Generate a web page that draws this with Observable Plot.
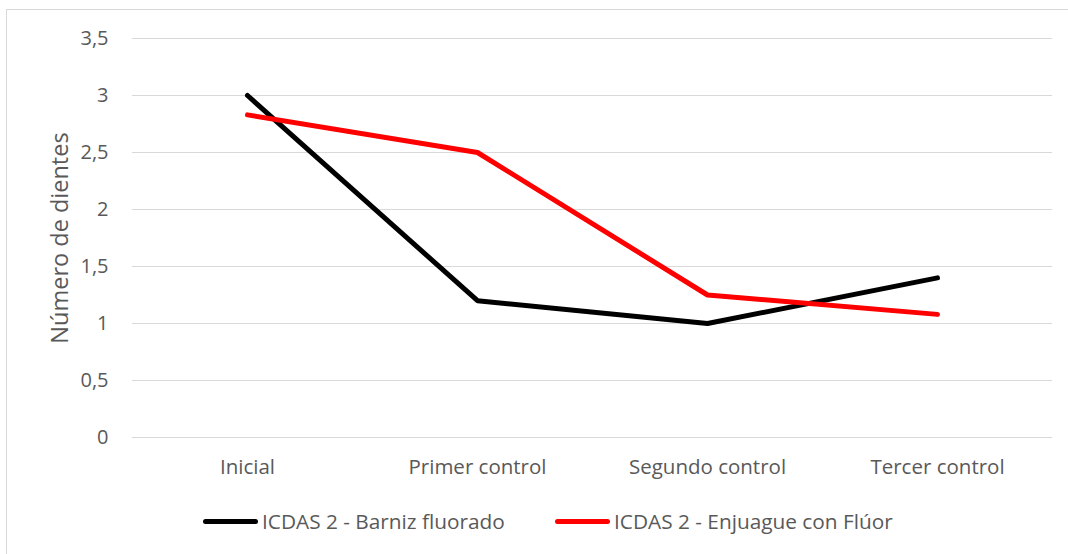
<!DOCTYPE html>
<html>
<head>
<meta charset="utf-8">
<script src="https://cdn.jsdelivr.net/npm/d3@7"></script>
<script src="https://cdn.jsdelivr.net/npm/@observablehq/plot@0.6"></script>
<style>
  html, body { margin: 0; padding: 0; background: #fff; }
  body { width: 1068px; height: 554px; position: relative; overflow: hidden; font-family: "Open Sans", Lato, sans-serif; }
  #frame { position: absolute; left: 6px; top: 9px; width: 1100px; height: 600px; border: 1px solid #d9d9d9; box-sizing: border-box; }
  #chart { position: absolute; left: 0; top: 0; }
  #legend { position: absolute; top: 508px; left: 0; width: 1068px; height: 26px; }
  .item { position: absolute; top: 0; display: flex; align-items: center; height: 26px; font-size: 20.8px; color: #595959; white-space: nowrap; }
  .sw { width: 55px; height: 5px; border-radius: 3px; margin-right: 4px; }
</style>
</head>
<body>
<div id="frame"></div>
<div id="chart"></div>
<div id="legend"></div>
<script>
const categories = ["Inicial", "Primer control", "Segundo control", "Tercer control"];
const seriesNames = ["ICDAS 2 - Barniz fluorado", "ICDAS 2 - Enjuague con Flúor"];
const barnizValues = [3.0, 1.2, 1.0, 1.4];
const enjuagueValues = [2.83, 2.5, 1.25, 1.08];
const seriesColors = ["#000000", "#ff0000"];
const yTicks = [0, 0.5, 1, 1.5, 2, 2.5, 3, 3.5];

const data = [];
categories.forEach((c, i) => {
  data.push({cat: c, value: barnizValues[i], series: seriesNames[0]});
  data.push({cat: c, value: enjuagueValues[i], series: seriesNames[1]});
});

const fmt = d => String(d).replace(".", ",");

const plot = Plot.plot({
  width: 1068,
  height: 490,
  marginLeft: 132,
  marginRight: 16,
  marginTop: 38,
  marginBottom: 53,
  style: {fontFamily: '"Open Sans", Lato, sans-serif', fontSize: "20px", color: "#595959", background: "transparent", overflow: "visible"},
  x: {type: "point", domain: categories, padding: 0.5, label: null},
  y: {domain: [0, 3.5], ticks: yTicks, label: null},
  color: {domain: seriesNames, range: seriesColors},
  marks: [
    Plot.gridY(yTicks, {stroke: "#d9d9d9", strokeOpacity: 1, strokeWidth: 1}),
    Plot.axisY(yTicks, {tickSize: 0, tickPadding: 24, tickFormat: fmt, fontSize: 20, fill: "#595959", label: null}),
    Plot.text(["Número de dientes"], {frameAnchor: "left", dx: -72, rotate: -90, fontSize: 23.5, fill: "#595959", textAnchor: "middle"}),
    Plot.axisX({tickSize: 0, tickPadding: 22, fontSize: 20.5, fill: "#595959", label: null}),
    Plot.line(data, {x: "cat", y: "value", z: "series", stroke: "series", strokeWidth: 5, strokeLinecap: "round", strokeLinejoin: "miter"})
  ]
});
document.getElementById("chart").appendChild(plot);

const legend = document.getElementById("legend");
const lefts = [203, 555];
seriesNames.forEach((s, i) => {
  const it = document.createElement("div");
  it.className = "item";
  it.style.left = lefts[i] + "px";
  const sw = document.createElement("div");
  sw.className = "sw";
  sw.style.background = seriesColors[i];
  const t = document.createElement("span");
  t.textContent = s;
  it.appendChild(sw);
  it.appendChild(t);
  legend.appendChild(it);
});
</script>
</body>
</html>
